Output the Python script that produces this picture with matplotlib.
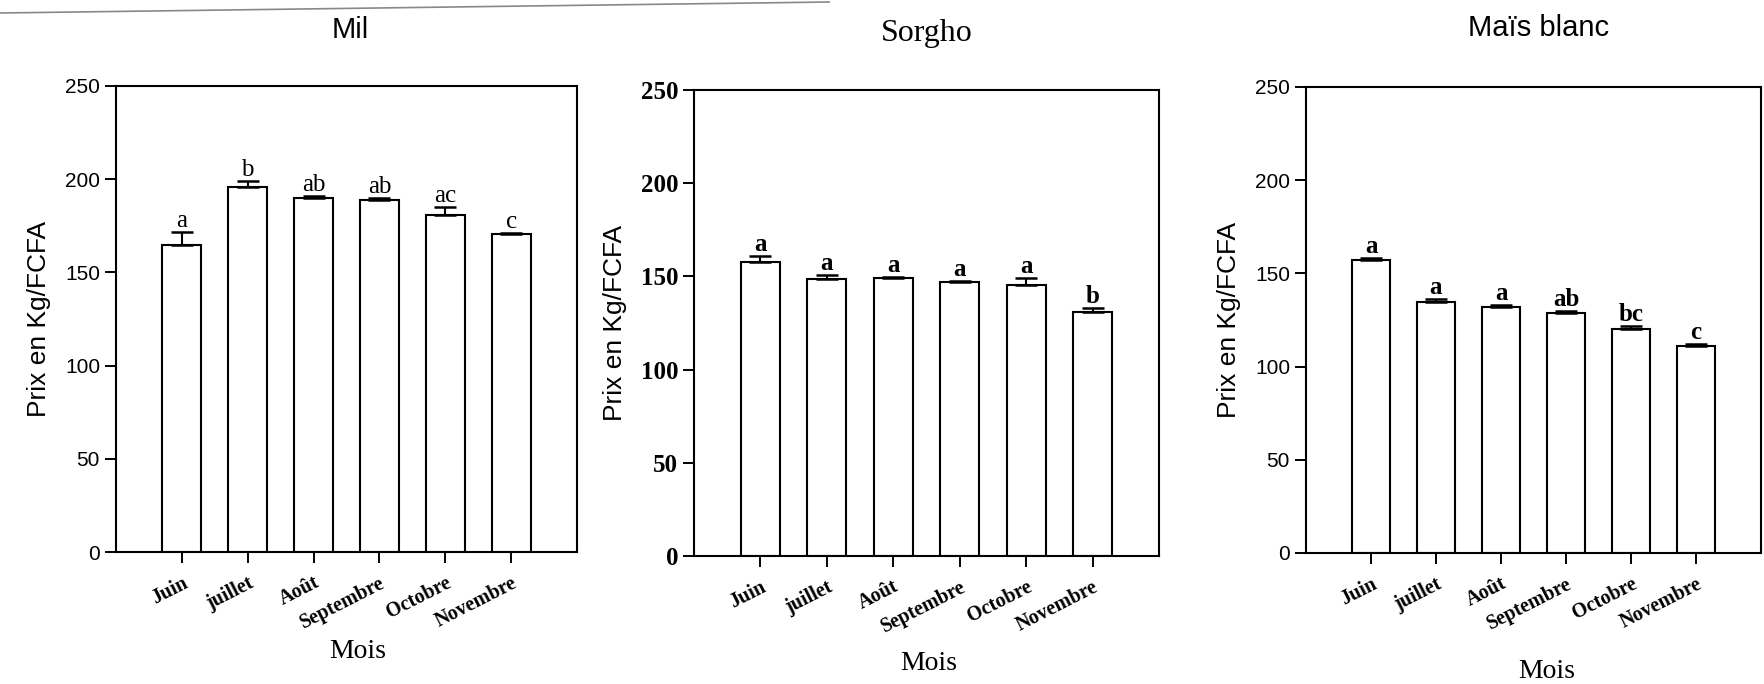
import numpy as np
import matplotlib
matplotlib.use('Agg')
import matplotlib.pyplot as plt
from matplotlib.lines import Line2D

# mois et valeurs
mois = ['Juin', 'juillet', 'Août', 'Septembre', 'Octobre', 'Novembre']

mil = [164.5, 196.0, 189.8, 188.8, 181.0, 170.5]
mil_err = [7.0, 3.0, 1.0, 1.0, 4.0, 0.6]
mil_lettres = ['a', 'b', 'ab', 'ab', 'ac', 'c']

sorgho = [157.5, 148.5, 149.0, 147.0, 145.5, 131.0]
sorgho_err = [3.5, 2.5, 0.5, 0.7, 3.5, 2.2]
sorgho_lettres = ['a', 'a', 'a', 'a', 'a', 'b']

mais = [157.0, 134.8, 132.0, 128.5, 120.0, 110.8]
mais_err = [1.5, 1.4, 1.0, 1.2, 1.8, 1.2]
mais_lettres = ['a', 'a', 'a', 'ab', 'bc', 'c']

yticks = [0, 50, 100, 150, 200, 250]

SANS = 'Liberation Sans'
SERIF = 'Liberation Serif'
W, H = 1764, 684

fig = plt.figure(figsize=(W / 100, H / 100), dpi=100)

# ligne grise en haut (artefact du scan)
fig.add_artist(Line2D([0.0, 0.47], [1 - 13 / H, 1 - 2 / H], transform=fig.transFigure,
                      color='#888888', lw=1.2))


def px_axes(x0, x1, ytop, ybot):
    # boite d'axes en pixels -> fraction de figure
    return [x0 / W, 1 - ybot / H, (x1 - x0) / W, (ybot - ytop) / H]


# titre, valeurs, erreurs, lettres, boite, police ticks y, poids ticks y, taille ticks y,
# police titre, taille titre, position titre, position "Mois", poids lettres
panneaux = [
    ('Mil', mil, mil_err, mil_lettres, px_axes(116, 577, 86, 552), SANS, 'normal', 15, SANS, 21,
     (350, 30), (358, 652), 'normal'),
    ('Sorgho', sorgho, sorgho_err, sorgho_lettres, px_axes(694, 1159, 90, 556), SERIF, 'bold', 18, SERIF, 23,
     (927, 33), (929, 663), 'bold'),
    ('Maïs blanc', mais, mais_err, mais_lettres, px_axes(1306, 1761, 87, 553), SANS, 'normal', 15, SANS, 21,
     (1539, 28), (1547, 672), 'bold'),
]

for titre, vals, errs, lettres, pos, yt_font, yt_w, yt_s, t_font, t_s, t_xy, m_xy, l_w in panneaux:
    ax = fig.add_axes(pos)
    x = np.arange(1, len(vals) + 1)
    ax.bar(x, vals, width=0.59, color='white', edgecolor='black', linewidth=1.5, zorder=2)
    ax.errorbar(x, vals, yerr=[np.zeros(len(errs)), errs], fmt='none', ecolor='black',
                elinewidth=1.5, capsize=8, capthick=1.8, zorder=3)
    for xi, v, e, l in zip(x, vals, errs, lettres):
        ax.annotate(l, (xi, v + e), xytext=(0, 0), textcoords='offset points',
                    ha='center', va='bottom', fontsize=18, family=SERIF, weight=l_w)
    ax.set_xlim(0, 7)
    ax.set_ylim(0, 250)
    ax.set_yticks(yticks)
    ax.set_yticklabels([str(t) for t in yticks], fontsize=yt_s, family=yt_font, weight=yt_w)
    ax.set_xticks(x)
    ax.set_xticklabels(mois, rotation=27, ha='right', rotation_mode='anchor',
                       fontsize=14.5, family=SERIF, weight='bold')
    ax.tick_params(axis='both', direction='out', length=8, width=1.4)
    ax.tick_params(axis='x', pad=7)
    for s in ax.spines.values():
        s.set_linewidth(1.5)
    ax.set_ylabel('Prix en Kg/FCFA', fontsize=19, family=SANS, labelpad=10)
    fig.text(t_xy[0] / W, 1 - t_xy[1] / H, titre, ha='center', va='center',
             fontsize=t_s, family=t_font)
    fig.text(m_xy[0] / W, 1 - m_xy[1] / H, 'Mois', ha='center', va='center',
             fontsize=20, family=SERIF)

fig.savefig('out.png', dpi=100)
